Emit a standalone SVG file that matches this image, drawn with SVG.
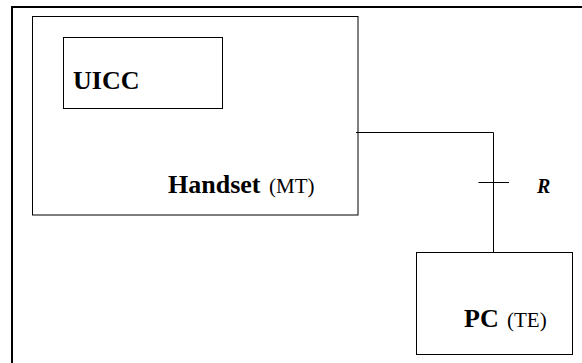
<svg xmlns="http://www.w3.org/2000/svg" width="582" height="363" viewBox="0 0 582 363">
<style>
.box{fill:none;stroke:#000;stroke-width:1}
.frame{fill:none;stroke:#000;stroke-width:2}
.wire{fill:none;stroke:#000;stroke-width:1}
.b{font-family:"Liberation Serif","Times New Roman",serif;font-weight:bold;font-size:26px;fill:#000}
.r{font-family:"Liberation Serif","Times New Roman",serif;font-size:21px;fill:#000}
.bi{font-family:"Liberation Serif","Times New Roman",serif;font-weight:bold;font-style:italic;font-size:20px;fill:#000}
</style>
<rect width="582" height="363" fill="#fff"/>
<rect class="frame" x="12" y="7" width="600" height="400"/>
<g id="handset">
<rect class="box" x="32.5" y="16.5" width="325.5" height="198.5"/>
<text class="b" x="168" y="193">Handset</text>
<text class="r" x="269" y="193">(MT)</text>
</g>
<g id="uicc">
<rect class="box" x="63.5" y="37.5" width="159" height="71"/>
<text class="b" x="73" y="89">UICC</text>
</g>
<g id="pc">
<rect class="box" x="416.5" y="252.5" width="156" height="102"/>
<text class="b" x="464" y="327">PC</text>
<text class="r" x="507" y="327">(TE)</text>
</g>
<g id="connectors">
<polyline class="wire" points="356,132.5 493.5,132.5 493.5,252.5"/>
<line class="wire" x1="478.5" y1="182.5" x2="509" y2="182.5"/>
<text class="bi" x="537" y="193">R</text>
</g>
</svg>
